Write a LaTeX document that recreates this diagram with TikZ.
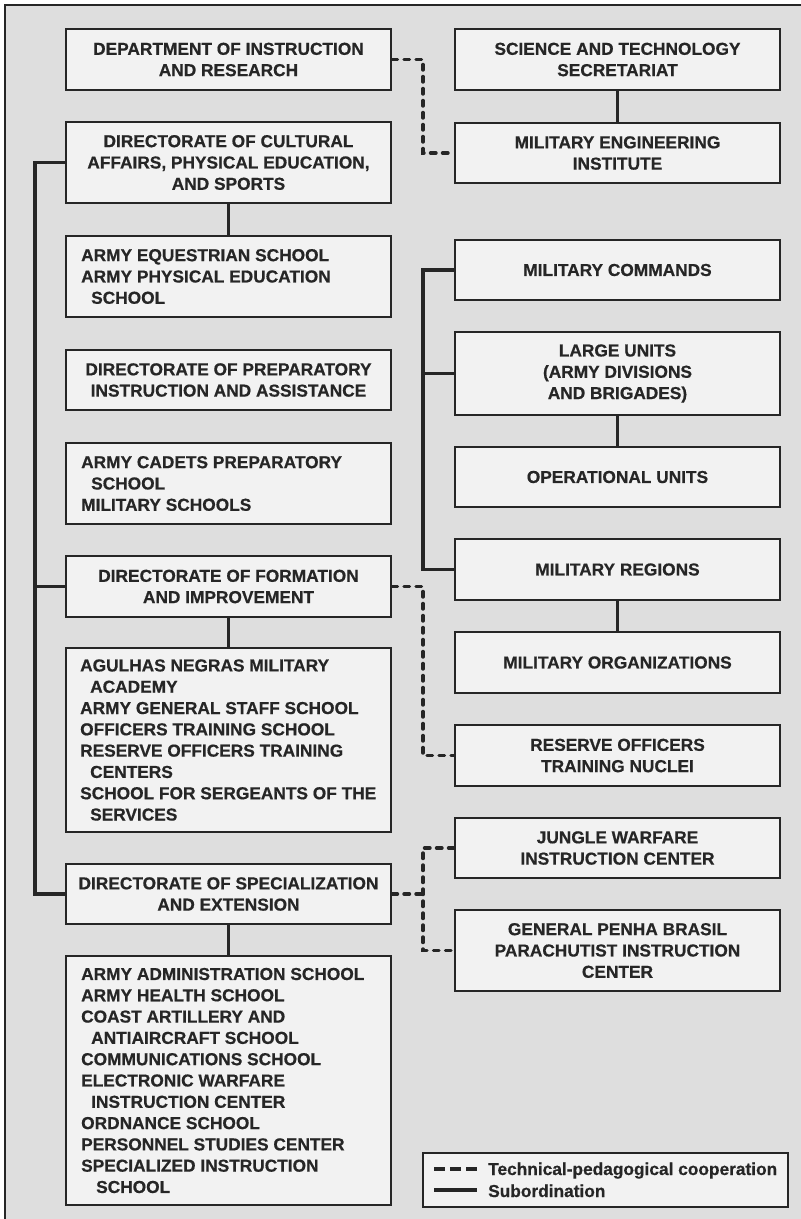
\documentclass[tikz,border=0pt]{standalone}
\usepackage{fontspec}
\setmainfont{Liberation Sans}[BoldFeatures={FakeBold=0.6}]
\definecolor{bgc}{HTML}{DEDEDE}
\definecolor{boxc}{HTML}{F2F2F2}
\definecolor{ink}{HTML}{262626}
\begin{document}
\begin{tikzpicture}[x=1pt,y=-1pt,
  txt/.style={font={\fontsize{17.3}{21.3}\selectfont\bfseries}, text=ink},
  box/.style={txt, draw=ink, line width=2pt, fill=boxc, minimum width=325pt, inner sep=0pt, align=center},
  ltext/.style={txt, anchor=west, align=left, inner sep=0pt},
  sub/.style={draw=ink, line width=3.4pt},
  coop/.style={draw=ink, line width=3.4pt, dash pattern=on 5.5pt off 6.5pt, line cap=round},
]
\useasboundingbox (0,0) rectangle (801,1219);
\fill[bgc] (5,5) rectangle (801,1219);
\draw[ink, line width=1.4pt] (5,1219) -- (5,5) -- (801,5);

% bus coordinates
\coordinate (busL) at (35,0);
\coordinate (busR) at (423,0);

% left column
\node[box, minimum height=61pt] (A) at (228.5,59.5) {DEPARTMENT OF INSTRUCTION\\AND RESEARCH};
\node[box, minimum height=81pt] (C) at (228.5,162.5) {DIRECTORATE OF CULTURAL\\AFFAIRS, PHYSICAL EDUCATION,\\AND SPORTS};
\node[box, minimum height=81pt] (D) at (228.5,276.5) {};
\node[ltext] (Dt) at ([xshift=16pt]D.west) {ARMY EQUESTRIAN SCHOOL\\ARMY PHYSICAL EDUCATION\\\hspace*{10pt}SCHOOL};
\node[box, minimum height=60pt] (E) at (228.5,380) {DIRECTORATE OF PREPARATORY\\INSTRUCTION AND ASSISTANCE};
\node[box, minimum height=81pt] (F) at (228.5,483.5) {};
\node[ltext] (Ft) at ([xshift=16pt]F.west) {ARMY CADETS PREPARATORY\\\hspace*{10pt}SCHOOL\\MILITARY SCHOOLS};
\node[box, minimum height=61pt] (G) at (228.5,586.5) {DIRECTORATE OF FORMATION\\AND IMPROVEMENT};
\node[box, minimum height=184pt] (H) at (228.5,740) {};
\node[ltext] (Ht) at ([xshift=15pt]H.west) {AGULHAS NEGRAS MILITARY\\\hspace*{10pt}ACADEMY\\ARMY GENERAL STAFF SCHOOL\\OFFICERS TRAINING SCHOOL\\RESERVE OFFICERS TRAINING\\\hspace*{10pt}CENTERS\\SCHOOL FOR SERGEANTS OF THE\\\hspace*{10pt}SERVICES};
\node[box, minimum height=60pt] (I) at (228.5,894) {DIRECTORATE OF SPECIALIZATION\\AND EXTENSION};
\node[box, minimum height=249pt] (J) at (228.5,1080.5) {};
\node[ltext] (Jt) at ([xshift=16pt]J.west) {ARMY ADMINISTRATION SCHOOL\\ARMY HEALTH SCHOOL\\COAST ARTILLERY AND\\\hspace*{10pt}ANTIAIRCRAFT SCHOOL\\COMMUNICATIONS SCHOOL\\ELECTRONIC WARFARE\\\hspace*{10pt}INSTRUCTION CENTER\\ORDNANCE SCHOOL\\PERSONNEL STUDIES CENTER\\SPECIALIZED INSTRUCTION\\\hspace*{15pt}SCHOOL};

% right column
\node[box, minimum height=61pt] (B) at (617.5,59.5) {SCIENCE AND TECHNOLOGY\\SECRETARIAT};
\node[box, minimum height=60pt] (MEI) at (617.5,153) {MILITARY ENGINEERING\\INSTITUTE};
\node[box, minimum height=60pt] (MC) at (617.5,270) {MILITARY COMMANDS};
\node[box, minimum height=83pt] (LU) at (617.5,373.5) {LARGE UNITS\\(ARMY DIVISIONS\\AND BRIGADES)};
\node[box, minimum height=60pt] (OU) at (617.5,477) {OPERATIONAL UNITS};
\node[box, minimum height=61pt] (MR) at (617.5,569.5) {MILITARY REGIONS};
\node[box, minimum height=61pt] (MO) at (617.5,662.5) {MILITARY ORGANIZATIONS};
\node[box, minimum height=61pt] (RO) at (617.5,755.5) {RESERVE OFFICERS\\TRAINING NUCLEI};
\node[box, minimum height=60pt] (JW) at (617.5,848) {JUNGLE WARFARE\\INSTRUCTION CENTER};
\node[box, minimum height=81pt] (GP) at (617.5,950.5) {GENERAL PENHA BRASIL\\PARACHUTIST INSTRUCTION\\CENTER};

% subordination
\draw[sub] (B.south) -- (MEI.north);
\draw[sub] (C.south) -- (D.north);
\draw[sub] (G.south) -- (H.north);
\draw[sub] (I.south) -- (J.north);
\draw[sub] (LU.south) -- (OU.north);
\draw[sub] (MR.south) -- (MO.north);
\draw[sub] (C.west) -| (busL |- I.west) -- (I.west);
\draw[sub] (G.west) -- (busL |- G.west);
\draw[sub] (MC.west) -| (busR |- MR.west) -- (MR.west);
\draw[sub] (LU.west) -- (busR |- LU.west);

% cooperation
\draw[coop] (A.east) -| (busR |- MEI.west) -- (MEI.west);
\draw[coop] (G.east) -| (busR |- RO.west) -- (RO.west);
\draw[coop] (JW.west) -| (busR |- GP.west) -- (GP.west);
\draw[coop] (I.east) -- (busR |- I.east);

% legend
\node[box, minimum width=365pt, minimum height=54pt] (L) at (605.5,1180) {};
\coordinate (l1a) at (434,1169);
\coordinate (l1b) at (477,1169);
\coordinate (l2a) at (434,1190);
\coordinate (l2b) at (477,1190);
\draw[draw=ink, line width=3.4pt, dash pattern=on 11pt off 5pt] (l1a) -- (l1b);
\draw[sub] (l2a) -- (l2b);
\node[txt, anchor=base west, inner sep=0pt] (lt1) at (488,1175) {Technical-pedagogical cooperation};
\node[txt, anchor=base west, inner sep=0pt] (lt2) at (488,1197) {Subordination};
\end{tikzpicture}
\end{document}
